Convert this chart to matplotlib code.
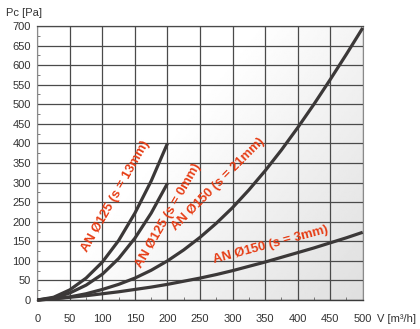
import numpy as np
import matplotlib
matplotlib.use("Agg")
import matplotlib.pyplot as plt
from matplotlib.ticker import MultipleLocator

plt.rcParams['font.family'] = ['Liberation Sans', 'DejaVu Sans']

# --- pressure loss curves, Pc [Pa] against V [m3/h] ---
v_125 = [0, 25, 50, 75, 100, 125, 150, 175, 200]
pc_125_s13 = [0, 7, 26, 56, 97, 152, 222, 304, 400]
pc_125_s0 = [0, 5, 18, 38, 66, 106, 158, 222, 298]

v_150 = [0, 25, 50, 75, 100, 125, 150, 175, 200, 225, 250,
         275, 300, 325, 350, 375, 400, 425, 450, 475, 500]
pc_150_s21 = [0, 3, 8, 16, 27, 40, 56, 76, 100, 128, 160,
              196, 236, 281, 330, 383, 440, 500, 563, 628, 695]
pc_150_s3 = [0, 3, 7, 11, 16, 21, 27, 33, 40, 48, 56,
             65, 75, 86, 97, 109, 121, 133, 146, 159, 173]

labels = ["AN Ø125 (s = 13mm)", "AN Ø125 (s = 0mm)",
          "AN Ø150 (s = 21mm)", "AN Ø150 (s = 3mm)"]

x_ticks = list(range(0, 501, 50))
y_ticks = list(range(0, 701, 50))

LINE_COL = "#3b3838"
TEXT_RED = "#e63c14"
TICK_COL = "#333333"

fig = plt.figure(figsize=(4.2, 3.29), dpi=100)
ax = fig.add_axes([0.0888, 0.0881, 0.7748, 0.8329])

# soft grey shading towards the lower right
gx, gy = np.meshgrid(np.linspace(0, 1, 200), np.linspace(0, 1, 200))
shade = np.clip((gx * 0.9 + gy * 0.6) - 0.6, 0, 1)
img = 1 - 0.14 * shade
ax.imshow(img, cmap="gray", vmin=0, vmax=1, extent=[0, 500, 0, 700],
          origin="upper", aspect="auto", zorder=0)

ax.set_xlim(0, 500)
ax.set_ylim(0, 700)
ax.set_xticks(x_ticks)
ax.set_yticks(y_ticks)
ax.xaxis.set_minor_locator(MultipleLocator(25))
ax.yaxis.set_minor_locator(MultipleLocator(25))
ax.grid(which="major", color="#4a4a4a", linewidth=0.9, zorder=1)
ax.tick_params(which="major", length=0, labelsize=8, labelcolor=TICK_COL)
ax.tick_params(axis="x", which="major", pad=10)
ax.tick_params(axis="y", which="major", pad=4.5)
ax.tick_params(which="minor", direction="in", length=2.5, width=0.6,
               color="#666666")

for side in ["left", "right"]:
    ax.spines[side].set_color("#8a8a8a")
    ax.spines[side].set_linewidth(0.8)
ax.spines["top"].set_color("#4a4a4a")
ax.spines["top"].set_linewidth(0.9)
ax.spines["bottom"].set_color("#3a3a3a")
ax.spines["bottom"].set_linewidth(1.0)

for v, pc in [(v_125, pc_125_s13), (v_125, pc_125_s0),
              (v_150, pc_150_s21), (v_150, pc_150_s3)]:
    ax.plot(v, pc, color=LINE_COL, linewidth=2.3, zorder=3,
            solid_capstyle="butt", clip_on=False)

# curve labels: first one left of its line, second one right of its line
label_pos = [(121, 266, 60.5), (202, 216, 60.0), (278, 296, 45.0), (358, 142, 15.0)]
for text, (x, y, rot) in zip(labels, label_pos):
    ax.text(x, y, text, rotation=rot, rotation_mode="anchor",
            ha="center", va="center", color=TEXT_RED, fontsize=9.4,
            fontweight="bold", zorder=4)

fig.text(6 / 420, 1 - 12.5 / 329, "Pc [Pa]", fontsize=8, color=TICK_COL,
         ha="left", va="center")
fig.text(377 / 420, 1 - 319.5 / 329, "V [m³/h]", fontsize=8, color=TICK_COL,
         ha="left", va="center")

fig.savefig("out.png", dpi=100)
